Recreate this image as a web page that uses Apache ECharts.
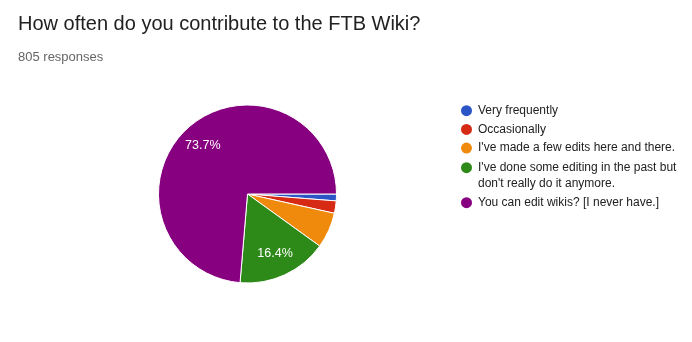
<!DOCTYPE html>
<html><head><meta charset="utf-8">
<script src="https://cdn.jsdelivr.net/npm/echarts@6/dist/echarts.min.js"></script>
<style>html,body{margin:0;padding:0;background:#fff}#c{width:692px;height:342px}</style>
</head><body><div id="c"></div>
<script>
const titleText = "How often do you contribute to the FTB Wiki?";
const subtitleText = "805 responses";
const categories = ["Very frequently","Occasionally","I've made a few edits here and there.","I've done some editing in the past but don't really do it anymore.","You can edit wikis? [I never have.]"];
const counts = [10, 18, 52, 132, 593];
const colors = ["#2b55c6","#d62a14","#f08a0c","#2d8a18","#87007f"];

const data = categories.map((c,i)=>({name:c, value:counts[i], itemStyle:{color:colors[i]}}));
const total = counts.reduce((a,b)=>a+b,0);
const labelData = categories.map((c,i)=>({name:c, value:counts[i]}));

const legendText = {fontFamily:'Liberation Sans, Arial',fontSize:12,color:'#222',lineHeight:16};
const chart = echarts.init(document.getElementById('c'));
chart.setOption({
  animation:false,
  title:[
    {text:titleText,left:18,top:14.5,padding:0,textStyle:{fontFamily:'Liberation Sans, Arial',fontSize:20,fontWeight:'normal',color:'#212121'}},
    {text:subtitleText,left:18,top:50.5,padding:0,textStyle:{fontFamily:'Liberation Sans, Arial',fontSize:13,fontWeight:'normal',color:'#666'}}
  ],
  legend:[
    {orient:'vertical',left:459,top:102.7,padding:0,itemWidth:13,itemHeight:14,itemGap:2.7,icon:'circle',
     data:categories.slice(0,3),textStyle:legendText},
    {orient:'vertical',left:459,top:143.7,padding:0,itemWidth:13,itemHeight:14,itemGap:3,icon:'circle',
     data:categories.slice(3),
     formatter:function(n){
       if(n===categories[3]) return "\nI've done some editing in the past but\ndon't really do it anymore.";
       return n;
     },
     textStyle:legendText}
  ],
  series:[
    {type:'pie',center:[247.5,194],radius:[0,89],startAngle:0,clockwise:true,
     data:data,label:{show:false},labelLine:{show:false},
     itemStyle:{borderColor:'#fff',borderWidth:1},emphasis:{disabled:true}},
    {type:'pie',center:[247.5,194],radius:[37,89],startAngle:0,clockwise:true,silent:true,
     data:labelData,legendHoverLink:false,
     itemStyle:{color:'rgba(0,0,0,0)'},
     label:{show:true,position:'inside',color:'#fff',fontFamily:'Liberation Sans, Arial',fontSize:12.5,
       formatter:function(p){ return p.value/total>0.1 ? (p.value/total*100).toFixed(1)+'%' : ''; }},
     labelLine:{show:false},emphasis:{disabled:true}}
  ]
});
</script></body></html>
